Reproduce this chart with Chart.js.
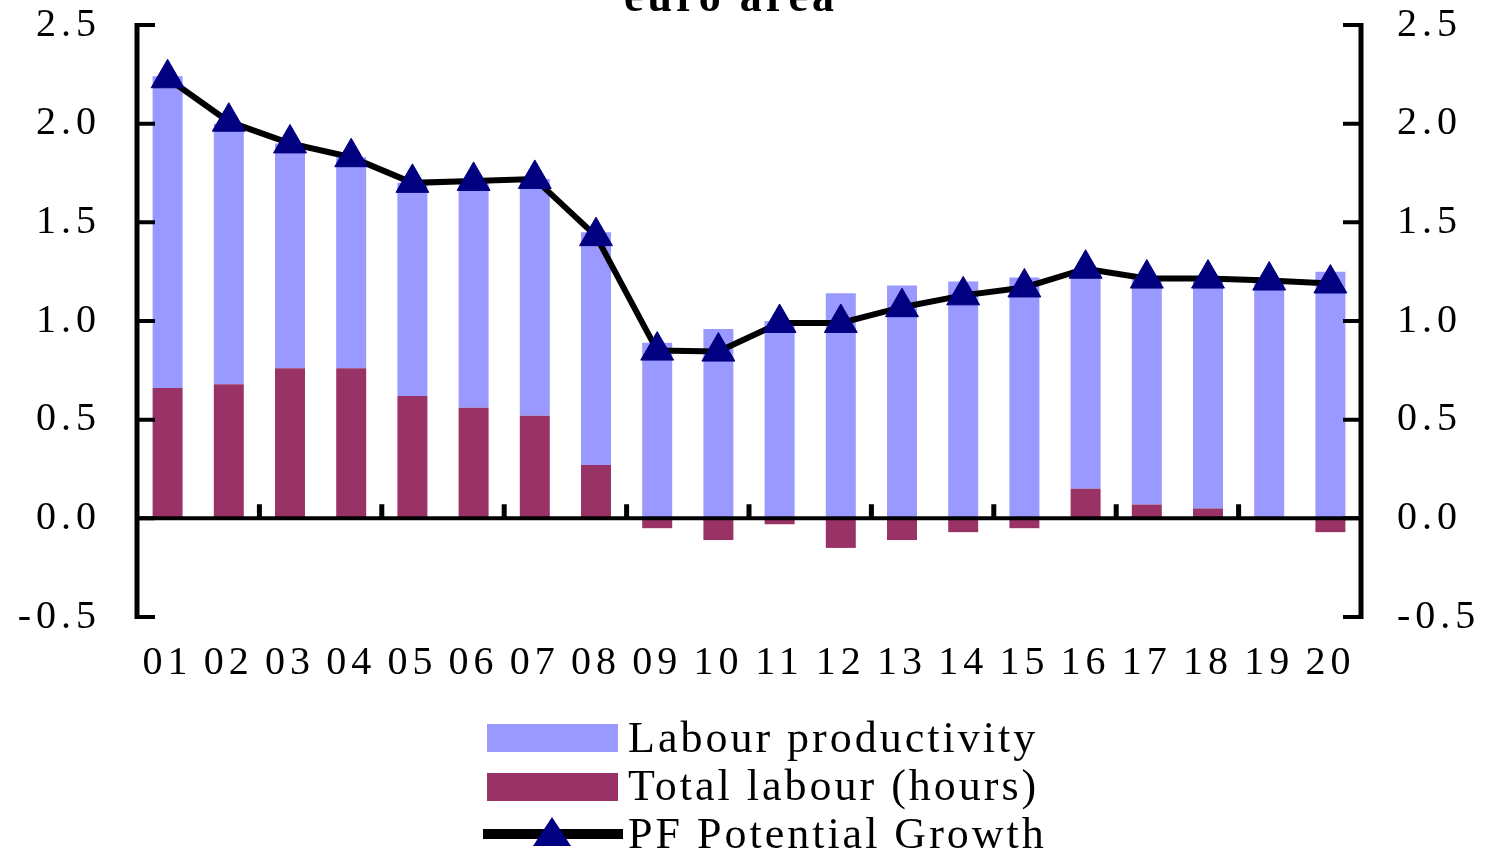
<!DOCTYPE html>
<html>
<head>
<meta charset="utf-8">
<script src="https://cdn.jsdelivr.net/npm/chart.js@4.4.0/dist/chart.umd.min.js"></script>
<style>
  html, body { margin: 0; padding: 0; background: #fff; }
  canvas { display: block; }
</style>
</head>
<body>
<canvas id="chart" width="1485" height="855"></canvas>
<script>
const years = ['01', '02', '03', '04', '05', '06', '07', '08', '09', '10',
               '11', '12', '13', '14', '15', '16', '17', '18', '19', '20'];
const totalLabour = [0.66, 0.68, 0.76, 0.76, 0.62, 0.56, 0.52, 0.27, -0.05, -0.11,
                     -0.03, -0.15, -0.11, -0.07, -0.05, 0.15, 0.07, 0.05, 0.0, -0.07];
const labourProductivity = [1.58, 1.32, 1.14, 1.07, 1.08, 1.15, 1.20, 1.18, 0.89, 0.96,
                            1.00, 1.14, 1.18, 1.20, 1.22, 1.11, 1.15, 1.17, 1.20, 1.25];
const potentialGrowth = [2.23, 2.01, 1.90, 1.83, 1.70, 1.71, 1.72, 1.43, 0.85, 0.845,
                         0.99, 0.99, 1.07, 1.13, 1.17, 1.265, 1.215, 1.215, 1.205, 1.19];
const yTickValues = [-0.5, 0, 0.5, 1.0, 1.5, 2.0, 2.5];
const chartTitle = 'euro area';

const serif = '"Liberation Serif", "Times New Roman", serif';
const tickFont = { family: serif, size: 40 };

// axis lines, inward ticks, zero line, legend and the clipped title
const decorations = {
  id: 'decorations',
  beforeLayout(chart) { chart.ctx.letterSpacing = '5px'; },
  beforeDraw(chart) { chart.ctx.letterSpacing = '5px'; },
  afterDatasetsDraw(chart) {
    const { ctx, chartArea: a, scales: { x, y } } = chart;
    ctx.save();
    ctx.strokeStyle = '#000';
    ctx.lineCap = 'butt';

    ctx.lineWidth = 5;
    ctx.beginPath();
    ctx.moveTo(a.left, a.top - 2);
    ctx.lineTo(a.left, a.bottom + 2);
    ctx.moveTo(a.right, a.top - 2);
    ctx.lineTo(a.right, a.bottom + 2);
    ctx.stroke();

    ctx.lineWidth = 4;
    ctx.beginPath();
    yTickValues.forEach(v => {
      const py = y.getPixelForValue(v);
      ctx.moveTo(a.left, py);
      ctx.lineTo(a.left + 18, py);
      ctx.moveTo(a.right, py);
      ctx.lineTo(a.right - 18, py);
    });
    ctx.stroke();

    const zero = y.getPixelForValue(0);
    ctx.beginPath();
    ctx.moveTo(a.left, zero);
    ctx.lineTo(a.right, zero);
    ctx.stroke();

    ctx.lineWidth = 5;
    ctx.beginPath();
    for (let i = 2; i < years.length; i += 2) {
      const px = (x.getPixelForValue(i - 1) + x.getPixelForValue(i)) / 2;
      ctx.moveTo(px, zero);
      ctx.lineTo(px, zero - 14);
    }
    ctx.stroke();
    ctx.restore();
  },
  afterDraw(chart) {
    const ctx = chart.ctx;
    const ds = chart.data.datasets;
    ctx.save();
    ctx.fillStyle = '#000';
    ctx.letterSpacing = '4px';
    ctx.font = 'bold 44px ' + serif;
    ctx.textAlign = 'center';
    ctx.textBaseline = 'alphabetic';
    ctx.fillText(chartTitle, 731, 11);

    ctx.letterSpacing = '3px';
    ctx.font = '44px ' + serif;
    ctx.textAlign = 'left';
    const rows = [
      { d: ds[1], cy: 738, base: 752 },
      { d: ds[0], cy: 787, base: 800 },
      { d: ds[2], cy: 834, base: 848 }
    ];
    rows.forEach(r => {
      if (r.d.type === 'line') {
        ctx.strokeStyle = r.d.borderColor;
        ctx.lineWidth = 10;
        ctx.beginPath();
        ctx.moveTo(483, r.cy);
        ctx.lineTo(623, r.cy);
        ctx.stroke();
        ctx.fillStyle = r.d.pointBackgroundColor;
        ctx.beginPath();
        ctx.moveTo(552, r.cy - 17);
        ctx.lineTo(571, r.cy + 12);
        ctx.lineTo(533, r.cy + 12);
        ctx.closePath();
        ctx.fill();
      } else {
        ctx.fillStyle = r.d.backgroundColor;
        ctx.fillRect(487, r.cy - 14, 131, 28);
      }
      ctx.fillStyle = '#000';
      ctx.fillText(r.d.label, 628, r.base);
    });
    ctx.restore();
  }
};

const yAxis = (position, width, padding) => ({
  position: position,
  stacked: true,
  min: -0.5,
  max: 2.5,
  afterBuildTicks: s => { s.ticks = yTickValues.map(v => ({ value: v })); },
  afterFit: s => {
    s.width = width;
    s.paddingTop = 0;
    s.paddingBottom = 0;
  },
  grid: { display: false, drawTicks: false },
  border: { display: false },
  ticks: {
    font: tickFont,
    color: '#000',
    padding: padding,
    callback: v => Number(v).toFixed(1)
  }
});

new Chart(document.getElementById('chart'), {
  data: {
    labels: years,
    datasets: [
      {
        type: 'bar',
        label: 'Total labour (hours)',
        data: totalLabour,
        backgroundColor: '#993366',
        yAxisID: 'y',
        order: 1,
        categoryPercentage: 1.0,
        barPercentage: 0.49
      },
      {
        type: 'bar',
        label: 'Labour productivity',
        data: labourProductivity,
        backgroundColor: '#9999FF',
        yAxisID: 'y',
        order: 1,
        categoryPercentage: 1.0,
        barPercentage: 0.49
      },
      {
        type: 'line',
        label: 'PF Potential Growth',
        data: potentialGrowth,
        stack: 'line',
        yAxisID: 'y',
        order: 0,
        borderColor: '#000',
        borderWidth: 6,
        tension: 0,
        pointStyle: 'triangle',
        pointRadius: 19,
        pointBackgroundColor: '#000080',
        pointBorderColor: '#000080',
        pointBorderWidth: 1
      }
    ]
  },
  options: {
    responsive: false,
    animation: false,
    layout: { padding: { top: 25, bottom: 168, left: 0, right: 0 } },
    plugins: {
      legend: { display: false },
      tooltip: { enabled: false }
    },
    scales: {
      x: {
        stacked: true,
        afterFit: s => { s.height = 70; },
        grid: { display: false, drawTicks: false },
        border: { display: false },
        ticks: { font: tickFont, color: '#000', padding: 22, maxRotation: 0, autoSkip: false }
      },
      y: yAxis('left', 137, 36),
      y2: yAxis('right', 124, 36)
    }
  },
  plugins: [decorations]
});
</script>
</body>
</html>
